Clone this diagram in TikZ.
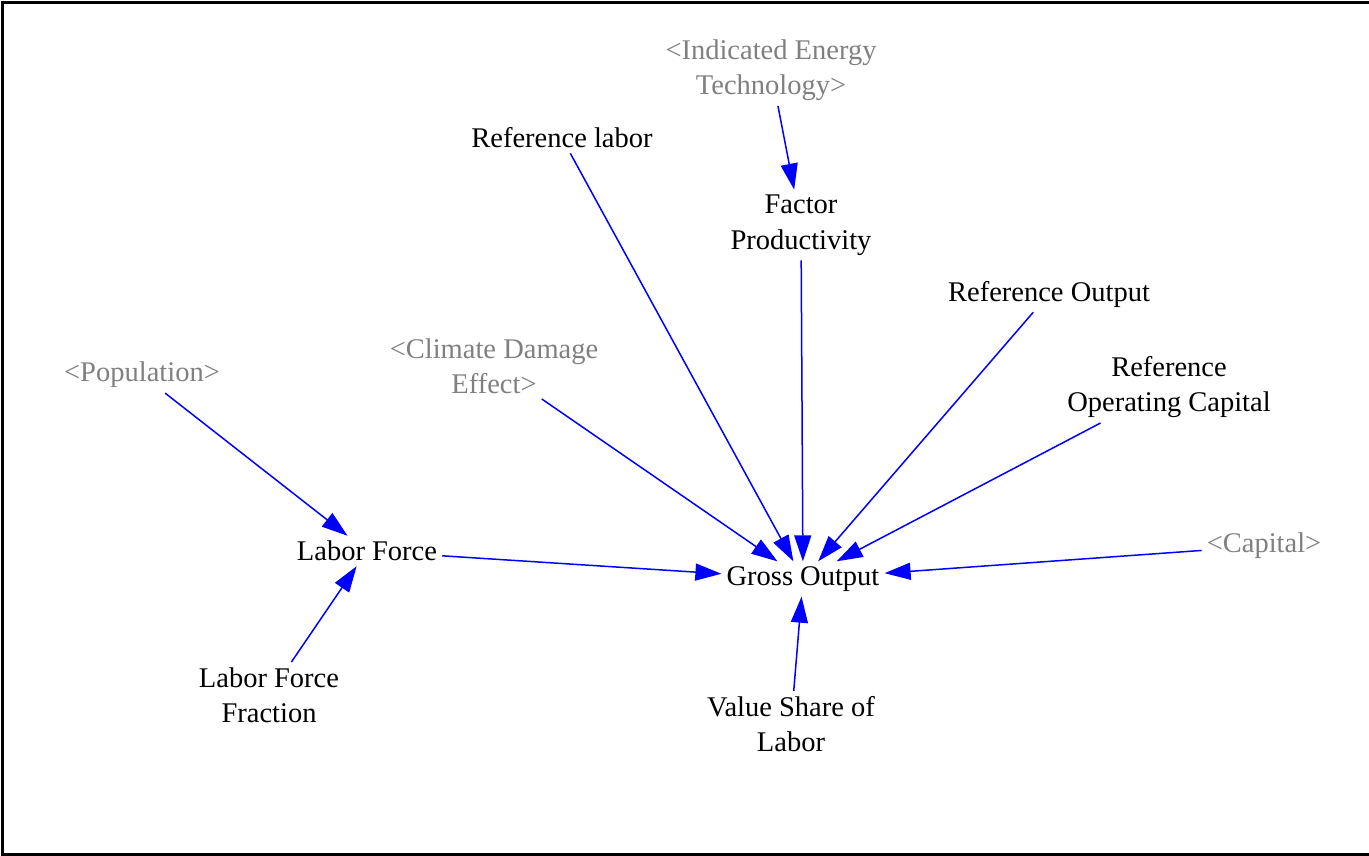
\documentclass[tikz,border=0pt]{standalone}
\usepackage{fontspec}
\setmainfont{Liberation Serif}
\newfontfamily\tnr{Liberation Serif}
\usetikzlibrary{arrows.meta}
\definecolor{shadow}{RGB}{128,128,128}
\definecolor{linkblue}{RGB}{0,0,255}
\begin{document}
\begin{tikzpicture}[x=1pt,y=-1pt,
  var/.style={font=\tnr\fontsize{28.5}{35.5}\selectfont, align=center, inner sep=5pt, text=black},
  ghost/.style={var, text=shadow},
  link/.style={draw=linkblue, line width=1.5pt, -{Triangle[length=26pt,width=17pt]}, fill=linkblue}
]
\useasboundingbox (0,0) rectangle (1369,856);
\draw[line width=3pt] (1369,2.5) -- (2.5,2.5) -- (2.5,854.5) -- (1369,854.5);

\node[ghost] (iet) at (771,70) {<Indicated Energy\\Technology>};
\node[var] (rl) at (562,138) {Reference labor};
\node[var] (fp) at (801,225) {Factor\\Productivity};
\node[var] (ro) at (1049,294) {Reference Output};
\node[var] (roc) at (1169,387) {Reference\\Operating Capital};
\node[ghost] (cde) at (494,366) {<Climate Damage\\Effect>};
\node[ghost] (pop) at (142,375) {<Population>};
\node[var] (lf) at (367,551) {Labor Force};
\node[var] (go) at (803,579) {Gross Output};
\node[ghost] (cap) at (1264,546) {<Capital>};
\node[var] (lff) at (269,695) {Labor Force\\Fraction};
\node[var] (vsl) at (791,724) {Value Share of\\Labor};

\draw[link] (iet) -- (fp);
\draw[link] (pop) -- (lf);
\draw[link] (lff) -- (lf);
\draw[link] (lf) -- (go);
\draw[link] (cde) -- (go);
\draw[link] (rl) -- (go);
\draw[link] (fp) -- (go);
\draw[link] (ro) -- (go);
\draw[link] (roc) -- (go);
\draw[link] (cap) -- (go);
\draw[link] (vsl) -- (go);
\end{tikzpicture}
\end{document}
